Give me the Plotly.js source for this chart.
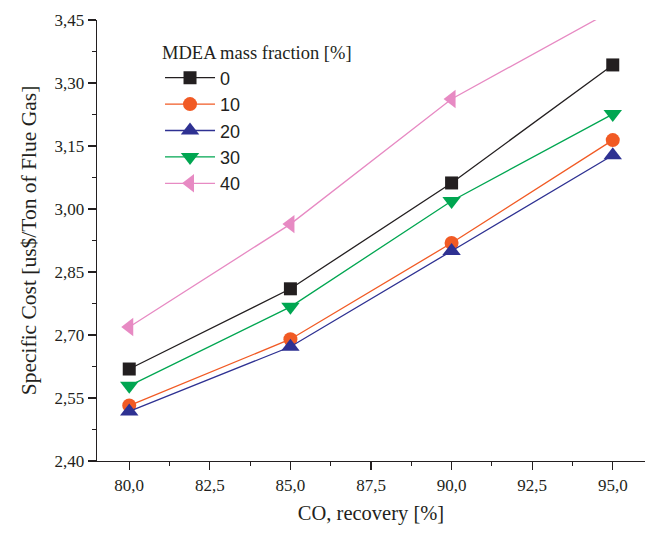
<!DOCTYPE html>
<html>
<head>
<meta charset="utf-8">
<script src="https://cdn.plot.ly/plotly-3.0.1.min.js"></script>
<style>html,body{margin:0;padding:0;background:#fff;}#chart{width:649px;height:533px;}</style>
</head>
<body>
<div id="chart"></div>
<script>
const recovery = [80, 85, 90, 95];
const seriesNames = ['0', '10', '20', '30', '40'];
const cost0 = [2.619, 2.810, 3.062, 3.343];
const cost10 = [2.532, 2.690, 2.919, 3.164];
const cost20 = [2.518, 2.672, 2.900, 3.128];
const cost30 = [2.579, 2.767, 3.019, 3.226];
const cost40 = [2.719, 2.964, 3.262, 3.473];

const values = [cost0, cost10, cost20, cost30, cost40];
const colors = ['#231f20', '#f15a24', '#2e3192', '#00a651', '#e78ac3'];
const symbols = ['square', 'circle', 'triangle-up', 'triangle-down', 'triangle-left'];
const sizes = [13, 14, 16, 16, 16];

const traces = values.map((v, i) => ({
  x: recovery,
  y: v,
  name: seriesNames[i],
  legendgroup: 'g' + i,
  type: 'scatter',
  mode: 'lines+markers',
  line: {color: colors[i], width: 1.3},
  marker: {symbol: symbols[i], size: sizes[i], color: colors[i], line: {width: 0}},
  cliponaxis: true
}));

const serif = 'Liberation Serif, Times New Roman, serif';
const sans = 'Liberation Sans, Arial, sans-serif';

const layout = {
  width: 649,
  height: 533,
  margin: {l: 97, r: 4, t: 20, b: 72},
  paper_bgcolor: '#ffffff',
  plot_bgcolor: '#ffffff',
  separators: ',.',
  showlegend: true,
  legend: {
    x: 0.115, y: 0.965, xanchor: 'left', yanchor: 'top',
    bgcolor: 'rgba(0,0,0,0)',
    font: {family: sans, size: 18, color: '#231f20'},
    itemwidth: 50,
    title: {text: 'MDEA mass fraction [%]', font: {family: serif, size: 18.5, color: '#231f20'}},
    tracegroupgap: 0
  },
  xaxis: {
    range: [79, 96],
    tickmode: 'array',
    tickvals: [80, 82.5, 85, 87.5, 90, 92.5, 95],
    tickformat: '.1f',
    ticks: 'outside', ticklen: 8, tickwidth: 1.2, tickcolor: '#231f20',
    minor: {tickvals: [81.25, 83.75, 86.25, 88.75, 91.25, 93.75], ticks: 'outside', ticklen: 4, tickwidth: 1.2, tickcolor: '#231f20'},
    showline: true, linecolor: '#231f20', linewidth: 1.3,
    showgrid: false, zeroline: false,
    tickfont: {family: serif, size: 17, color: '#231f20'},
    title: {text: 'CO, recovery [%]', font: {family: serif, size: 20.5, color: '#231f20'}, standoff: 12}
  },
  yaxis: {
    range: [2.40, 3.45],
    tickmode: 'array',
    tickvals: [2.40, 2.55, 2.70, 2.85, 3.00, 3.15, 3.30, 3.45],
    tickformat: '.2f',
    ticks: 'outside', ticklen: 8, tickwidth: 1.2, tickcolor: '#231f20',
    minor: {tickvals: [2.475, 2.625, 2.775, 2.925, 3.075, 3.225, 3.375], ticks: 'outside', ticklen: 4, tickwidth: 1.2, tickcolor: '#231f20'},
    showline: true, linecolor: '#231f20', linewidth: 1.3,
    showgrid: false, zeroline: false,
    tickfont: {family: serif, size: 17, color: '#231f20'},
    title: {text: 'Specific Cost [us$/Ton of Flue Gas]', font: {family: serif, size: 21.5, color: '#231f20'}, standoff: 12}
  }
};

Plotly.newPlot('chart', traces, layout, {displayModeBar: false, staticPlot: true});
</script>
</body>
</html>
